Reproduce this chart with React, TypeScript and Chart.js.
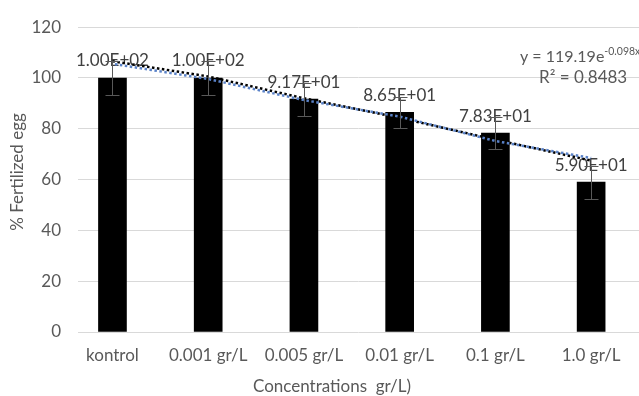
import React, { useEffect, useRef } from "react";
import { Chart, registerables } from "chart.js";

Chart.register(...registerables);

const categories = ["kontrol", "0.001 gr/L", "0.005 gr/L", "0.01 gr/L", "0.1 gr/L", "1.0 gr/L"];
const fertilized = [100, 100, 91.7, 86.5, 78.3, 59.0];
const errors = [6.5, 6.5, 6.5, 6.2, 6.3, 6.5];
const linearTrend = [106.6, 100.6, 92.0, 84.3, 75.7, 67.5];
const expTrend = [105.6, 99.6, 91.3, 84.8, 75.2, 68.5];
const yTicks = [0, 20, 40, 60, 80, 100, 120];
const equationText = "y = 119.19e";
const equationSup = "-0.098x";
const r2Text = "R² = 0.8483";
const xTitle = "Concentrations  gr/L)";
const yTitle = "% Fertilized egg";

const FONT = "Lato, 'Open Sans', sans-serif";
const TEXT = "#595959";

function fmtSci(v: number): string {
  const s = v.toExponential(2);
  const [m, e] = s.split("e");
  const sign = e[0] === "-" ? "-" : "+";
  const digits = e.replace(/[+-]/, "").padStart(2, "0");
  return `${m}E${sign}${digits}`;
}

const overlayPlugin = {
  id: "overlay",
  beforeDatasetsDraw(chart: any) {
    const ctx = chart.ctx;
    const meta = chart.getDatasetMeta(0);
    const y = chart.scales.y;
    ctx.save();
    ctx.font = `17px ${FONT}`;
    ctx.fillStyle = "#404040";
    ctx.textAlign = "center";
    ctx.textBaseline = "middle";
    meta.data.forEach((el: any, i: number) => {
      const top = y.getPixelForValue(fertilized[i]);
      ctx.fillText(fmtSci(fertilized[i]), el.x, top - 17);
    });
    ctx.restore();
  },
  afterDatasetsDraw(chart: any) {
    const ctx = chart.ctx;
    const meta = chart.getDatasetMeta(0);
    const y = chart.scales.y;
    ctx.save();
    ctx.strokeStyle = "#595959";
    ctx.lineWidth = 1;
    meta.data.forEach((el: any, i: number) => {
      const x = Math.round(el.x) + 0.5;
      const hi = Math.round(y.getPixelForValue(fertilized[i] + errors[i])) + 0.5;
      const lo = Math.round(y.getPixelForValue(fertilized[i] - errors[i])) + 0.5;
      ctx.beginPath();
      ctx.moveTo(x, hi);
      ctx.lineTo(x, lo);
      ctx.moveTo(x - 7, hi);
      ctx.lineTo(x + 7, hi);
      ctx.moveTo(x - 7, lo);
      ctx.lineTo(x + 7, lo);
      ctx.stroke();
    });
    // equation
    ctx.fillStyle = TEXT;
    ctx.textBaseline = "alphabetic";
    ctx.textAlign = "left";
    ctx.font = `16px ${FONT}`;
    ctx.fillText(equationText, 520, 62);
    const w = ctx.measureText(equationText).width;
    ctx.font = `10.5px ${FONT}`;
    ctx.fillText(equationSup, 520 + w, 55);
    ctx.font = `17px ${FONT}`;
    ctx.fillText(r2Text, 539, 83);
    // axis titles
    ctx.font = `17px ${FONT}`;
    ctx.textAlign = "center";
    ctx.textBaseline = "middle";
    ctx.fillText(xTitle, 332, 387);
    ctx.translate(18, 172);
    ctx.rotate(-Math.PI / 2);
    ctx.fillText(yTitle, 0, 0);
    ctx.restore();
  },
};

export default function App() {
  const ref = useRef<HTMLCanvasElement | null>(null);
  useEffect(() => {
    if (!ref.current) return;
    const chart = new Chart(ref.current, {
      type: "bar",
      data: {
        datasets: [
          {
            type: "bar",
            label: "Fertilized",
            data: fertilized.map((v, i) => ({ x: i, y: v })),
            backgroundColor: "#000000",
            barThickness: 28,
            order: 3,
          } as any,
          {
            type: "line",
            label: "Linear",
            data: linearTrend.map((v, i) => ({ x: i, y: v })),
            borderColor: "#000000",
            borderWidth: 2.5,
            borderDash: [2.5, 2.5],
            pointRadius: 0,
            tension: 0,
            order: 2,
          } as any,
          {
            type: "line",
            label: "Exp",
            data: expTrend.map((v, i) => ({ x: i, y: v })),
            borderColor: "#5a82c8",
            borderWidth: 2.5,
            borderDash: [2.5, 2.5],
            borderDashOffset: 2.5,
            pointRadius: 0,
            tension: 0,
            order: 1,
          } as any,
        ],
      },
      options: {
        responsive: false,
        animation: false,
        layout: { padding: { top: 23, right: 0, left: 0, bottom: 0 } },
        plugins: { legend: { display: false }, tooltip: { enabled: false } },
        scales: {
          x: {
            type: "linear",
            offset: false,
            bounds: "data",
            min: -0.36,
            max: 5.5,
            afterBuildTicks: (s: any) => {
              s.ticks = categories.map((_, i) => ({ value: i }));
            },
            afterFit: (s: any) => {
              s.height = 64;
            },
            grid: { display: false, drawTicks: false, offset: false },
            border: { display: false },
            ticks: {
              autoSkip: false,
              maxRotation: 0,
              padding: 13,
              color: TEXT,
              font: { family: FONT, size: 17 },
              callback: (v: any) => categories[Math.round(v)] ?? "",
            },
          },
          y: {
            min: 0,
            max: 120,
            afterBuildTicks: (s: any) => {
              s.ticks = yTicks.map((v) => ({ value: v }));
            },
            afterFit: (s: any) => {
              s.width = 78;
            },
            grid: { color: "#d9d9d9", lineWidth: 1, drawTicks: false },
            border: { display: false },
            ticks: {
              padding: 17,
              color: TEXT,
              font: { family: FONT, size: 17 },
            },
          },
        },
      },
      plugins: [overlayPlugin],
    } as any);
    return () => chart.destroy();
  }, []);
  return (
    <div style={{ position: "fixed", left: 0, top: 0, width: 639, height: 396, background: "#fff" }}>
      <canvas ref={ref} width={639} height={396} style={{ display: "block" }} />
    </div>
  );
}
